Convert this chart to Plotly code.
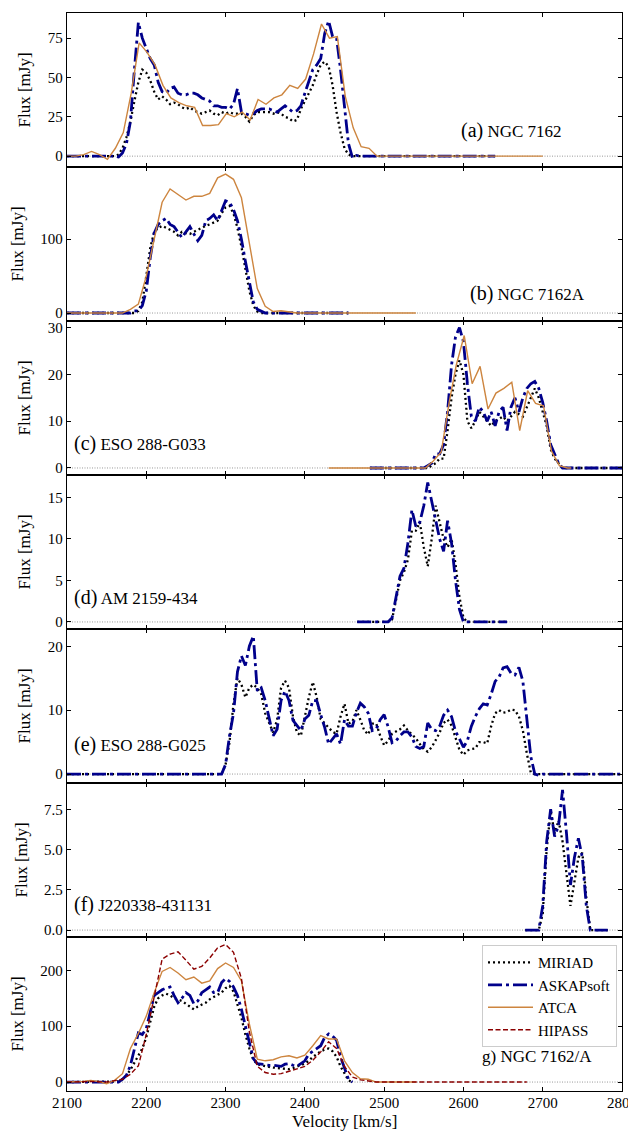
import plotly.graph_objects as go
from plotly.subplots import make_subplots

# ---------------- data ----------------
a_vel = [
    2100, 2130, 2160, 2165, 2170, 2175, 2180, 2185, 2190, 2195,
    2200, 2205, 2210, 2215, 2220, 2225, 2230, 2235, 2240, 2245,
    2250, 2255, 2260, 2265, 2270, 2275, 2280, 2285, 2290, 2295,
    2300, 2305, 2310, 2315, 2320, 2325, 2330, 2335, 2340, 2345,
    2350, 2355, 2360, 2365, 2370, 2375, 2380, 2385, 2390, 2395,
    2400, 2405, 2410, 2415, 2420, 2425, 2430, 2435, 2440, 2445,
    2450, 2455, 2460, 2465, 2470, 2500, 2550, 2600, 2640]
a_miriad = [
    0, 0, 0, 1, 5, 12, 22, 35, 47, 55,
    53, 48, 41, 36, 38, 36, 33, 34, 33, 31,
    30, 31, 29, 28, 27, 28, 29, 27, 26, 28,
    27, 28, 27, 27, 27, 25, 22, 26, 28, 28,
    28, 28, 27, 28, 27, 25, 24, 22, 23, 30,
    35, 40, 45, 52, 58, 60, 57, 45, 28, 15,
    5, 1, 0, 0, 0, 0, 0, 0, 0]
a_askap = [
    0, 0, 0, -0.5, 2, 8, 22, 55, 85, 75,
    68, 62, 58, 47, 41, 40, 43, 44, 40, 39,
    39, 40, 40, 39, 37, 36, 35, 32, 32, 31,
    31, 30, 33, 43, 28, 27, 26, 27, 29, 30,
    30, 30, 29, 28, 30, 32, 30, 28, 29, 32,
    40, 48, 55, 58, 62, 78, 86, 76, 75, 55,
    30, 8, -1, 0.5, 0, 0, 0, 0, 0]
a_atca_vel = [
    2100, 2111, 2121, 2131, 2141, 2151, 2161, 2171, 2181, 2191,
    2201, 2211, 2221, 2231, 2241, 2251, 2261, 2271, 2281, 2291,
    2301, 2311, 2321, 2331, 2341, 2351, 2361, 2371, 2381, 2391,
    2401, 2411, 2421, 2431, 2441, 2451, 2461, 2471, 2481, 2491,
    2501, 2700]
a_atca = [
    0, 0, 1, 3, 1, -2, 5, 15, 40, 72,
    66, 58, 45, 37, 34, 32, 31, 19.5, 19.5, 20,
    27, 25, 28, 23, 36, 33, 37, 39, 45, 43,
    49, 65, 84, 75, 76, 38, 18, 6, 5, 0,
    0, 0]

b_vel = [
    2100, 2140, 2180, 2185, 2190, 2195, 2200, 2205, 2210, 2215,
    2220, 2225, 2230, 2235, 2240, 2245, 2250, 2255, 2260, 2265,
    2270, 2275, 2280, 2285, 2290, 2295, 2300, 2305, 2310, 2315,
    2320, 2325, 2330, 2335, 2340, 2345, 2350, 2400, 2455]
b_miriad = [
    0, 0, 0, 0, 3, 15, 50, 88, 110, 115,
    118, 115, 112, 110, 105, 110, 108, 107, 110, 113,
    115, 118, 120, 123, 125, 135, 143, 145, 135, 115,
    90, 60, 30, 10, 2, 0, 0, 0, 0]
b_askap = [
    0, 0, 0, 3, 3, 10, 30, 75, 108, 120,
    125, 128, 120, 117, 110, 102, 110, 117, 107, 98,
    105, 125, 128, 133, 125, 140, 152, 150, 140, 125,
    100, 70, 40, 15, 5, 2, 0, 0, 0]
b_atca_vel = [
    2100, 2120, 2140, 2160, 2170, 2180, 2190, 2200, 2210, 2220,
    2230, 2240, 2250, 2260, 2270, 2280, 2290, 2300, 2310, 2320,
    2330, 2340, 2350, 2360, 2370, 2380, 2390, 2400, 2540]
b_atca = [
    0, 0, 0, 0, 0, 5, 12, 50, 100, 150,
    168, 160, 153, 158, 158, 162, 183, 188, 181, 156,
    97, 33, 9, 2, 3, 1, 0, 0, 0]

c_vel = [
    2482, 2550, 2555, 2560, 2565, 2570, 2575, 2580, 2585, 2590,
    2595, 2600, 2605, 2610, 2615, 2620, 2625, 2630, 2635, 2640,
    2645, 2650, 2655, 2660, 2665, 2670, 2675, 2680, 2685, 2690,
    2695, 2700, 2705, 2710, 2715, 2720, 2725, 2730, 2800]
c_askap = [
    0, 0, 0.5, 1, 3, 3, 5, 12, 22, 28,
    30, 27, 18, 11, 10, 13, 12, 10, 12, 9,
    12, 13, 8, 13, 15, 12, 15, 17, 18, 18.5,
    17, 14, 10, 5, 3, 1, 0, 0, 0]
c_miriad = [
    0, 0, 0, 0.5, 1, 2, 2, 8, 15, 20,
    23, 20, 10, 8.5, 10, 12, 11, 10, 9, 10,
    10.5, 11, 10, 11, 12, 11.5, 11, 13, 15, 17,
    15, 12, 9, 4, 2, 1, 0, 0, 0]
c_atca_vel = [2430, 2480, 2530, 2552, 2562, 2572, 2582, 2591, 2601, 2611,
              2621, 2631, 2641, 2651, 2661, 2671, 2681, 2691, 2701, 2711,
              2721, 2731, 2736]
c_atca = [0, 0, 0, 0, 1.5, 3.4, 14, 22, 28.3, 18,
          21.7, 12.6, 16, 17, 18.3, 8, 16.5, 13.8, 13.3, 3.6,
          0.5, 0, 0]

d_vel = [
    2466, 2500, 2505, 2510, 2515, 2520, 2525, 2530, 2535, 2540,
    2545, 2550, 2555, 2560, 2565, 2570, 2575, 2580, 2585, 2590,
    2595, 2600, 2605, 2655]
d_askap = [
    0, 0, 0, 0.5, 3, 5.5, 6.5, 9.5, 13.5, 11.5,
    12, 14, 16.8, 14.5, 12.5, 10, 8.5, 12.2, 9.5, 5,
    1.5, 0, 0, 0]
d_miriad = [
    0, 0, 0, 0.3, 2.5, 5, 6, 7.5, 11, 11,
    12, 9, 6.7, 10, 14, 12, 10, 9, 10, 7,
    3, 0.5, 0, 0]

e_vel = [
    2100, 2290, 2295, 2300, 2305, 2310, 2315, 2320, 2325, 2330,
    2335, 2340, 2345, 2350, 2355, 2360, 2365, 2370, 2375, 2380,
    2385, 2390, 2395, 2400, 2405, 2410, 2415, 2420, 2425, 2430,
    2435, 2440, 2445, 2450, 2455, 2460, 2465, 2470, 2475, 2480,
    2485, 2490, 2495, 2500, 2505, 2510, 2515, 2520, 2525, 2530,
    2535, 2540, 2545, 2550, 2555, 2560, 2565, 2570, 2575, 2580,
    2585, 2590, 2595, 2600, 2605, 2610, 2615, 2620, 2625, 2630,
    2635, 2640, 2645, 2650, 2655, 2660, 2665, 2670, 2675, 2680,
    2685, 2690, 2695, 2700, 2800]
e_askap = [
    0, 0, 0, 1.5, 6, 9.5, 16, 18.5, 17, 20,
    21.6, 13, 13.5, 11.5, 8.5, 6, 7, 11.5, 13, 11.5,
    8.4, 7.5, 6.8, 8.6, 9.2, 11.5, 11.5, 9.3, 7.3, 4.7,
    5.5, 6.3, 4.7, 8.5, 7.5, 7.5, 9.6, 11.1, 10.5, 9.5,
    6.8, 7, 8.5, 9.3, 7.4, 4.9, 5.2, 6, 6.6, 6.6,
    5.8, 4.3, 4, 4.3, 8, 7, 6.8, 7.5, 9.2, 10,
    9, 6.7, 5.5, 4.2, 5.2, 7.5, 9, 10.2, 11, 10.8,
    12.5, 14.5, 15.2, 16.6, 16.8, 15.8, 15.5, 16.7, 14.5, 8.4,
    2.7, 0, -0.2, 0, 0]
e_miriad = [
    0, 0, 0, 1.5, 5, 11, 15, 14, 12, 13.5,
    14, 13.5, 12.5, 9.5, 8, 6.5, 8.5, 13.5, 14.6, 13.5,
    9, 6.5, 6, 9, 12, 14.4, 12, 8.6, 7.9, 7.2,
    6.6, 6.3, 9, 11, 7.9, 8.2, 10, 8.5, 6.8, 6.2,
    7.9, 7.9, 6, 4.5, 5.2, 6.3, 6.6, 7, 7.6, 6.8,
    6.2, 5.6, 4.7, 3.9, 3.5, 4.2, 5.3, 6.5, 8, 8.5,
    7.6, 5.5, 3.8, 3, 3.7, 3.9, 4, 5, 5, 4.8,
    7.5, 9.5, 10, 9.6, 9.7, 10.1, 10, 9, 6.8, 3.2,
    0.2, 0, 0, 0, 0]

f_vel = [2678, 2695, 2700, 2705, 2710, 2715, 2720, 2725, 2730, 2735,
         2740, 2745, 2750, 2755, 2760, 2765, 2782]
f_askap = [0, 0, 1.5, 5.5, 7.5, 5.8, 6.5, 8.7, 6, 2.8,
           4.5, 5.7, 4.5, 1.5, 0, 0, 0]
f_miriad = [0, 0, 1, 5, 7.4, 6, 6.8, 5.5, 3.5, 1.5,
            3, 4.5, 4.8, 2, 0, 0, 0]

g_vel = [
    2100, 2150, 2160, 2165, 2170, 2175, 2180, 2185, 2190, 2195,
    2200, 2205, 2210, 2215, 2220, 2225, 2230, 2235, 2240, 2245,
    2250, 2255, 2260, 2265, 2270, 2275, 2280, 2285, 2290, 2295,
    2300, 2305, 2310, 2315, 2320, 2325, 2330, 2335, 2340, 2345,
    2350, 2355, 2360, 2365, 2370, 2375, 2380, 2385, 2390, 2395,
    2400, 2405, 2410, 2415, 2420, 2425, 2430, 2435, 2440, 2445,
    2450, 2455, 2460]
g_askap = [
    0, 0, 0, 0, 5, 12, 30, 60, 88, 85,
    96, 125, 155, 160, 165, 168, 170, 155, 142, 150,
    160, 155, 140, 145, 160, 165, 170, 160, 160, 178,
    185, 180, 170, 155, 130, 100, 70, 42, 33, 32,
    30, 30, 30, 29, 28, 32, 33, 30, 28, 33,
    38, 50, 55, 60, 65, 80, 86, 82, 75, 45,
    25, 5, 0]
g_miriad = [
    0, 0, 0, 1, 5, 12, 22, 35, 48, 60,
    80, 110, 135, 150, 155, 158, 155, 150, 148, 145,
    140, 135, 130, 135, 138, 142, 148, 152, 155, 160,
    168, 172, 162, 140, 115, 85, 60, 40, 32, 30,
    28, 27, 26, 25, 25, 24, 23, 25, 28, 30,
    33, 38, 45, 50, 55, 58, 60, 55, 45, 28,
    15, 3, 0]
g_atca_vel = [
    2100, 2110, 2120, 2130, 2140, 2150, 2160, 2170, 2180, 2190,
    2200, 2210, 2220, 2230, 2240, 2250, 2260, 2270, 2280, 2290,
    2300, 2310, 2320, 2330, 2340, 2350, 2360, 2370, 2380, 2390,
    2400, 2410, 2420, 2430, 2440, 2450, 2460, 2470, 2480, 2490,
    2500, 2540]
g_atca = [
    0, 0, 1, 3, 1, -3, 3, 15, 60, 87,
    118, 160, 198, 205, 195, 183, 188, 177, 181, 203,
    213, 205, 181, 104, 41, 38, 40, 45, 47, 43,
    48, 65, 83, 77, 77, 38, 17, 6, 5, 0,
    0, 0]
g_hipass_vel = [
    2100, 2130, 2150, 2160, 2170, 2180, 2190, 2200, 2210, 2220,
    2230, 2240, 2250, 2260, 2270, 2280, 2290, 2300, 2310, 2320,
    2330, 2340, 2350, 2360, 2370, 2380, 2390, 2400, 2410, 2420,
    2430, 2440, 2450, 2460, 2470, 2480, 2490, 2500, 2680]
g_hipass = [
    0, 1, 0, 2, 5, 14, 29, 85, 150, 220,
    229, 233, 218, 202, 207, 222, 240, 246, 232, 185,
    90, 28, 17, 14, 15, 19, 23, 28, 39, 54,
    72, 60, 28, 9, 4, 1.5, 0, 0, 0]

panel_labels = ["(a)", "(b)", "(c)", "(d)", "(e)", "(f)", "g)"]
panel_names = ["NGC 7162", "NGC 7162A", "ESO 288-G033", "AM 2159-434",
               "ESO 288-G025", "J220338-431131", "NGC 7162/A"]
y_ranges = [[-6.9, 91], [-10.8, 197.7], [-1.5, 31.4], [-0.85, 17.7],
            [-1.4, 22.7], [-0.43, 9.13], [-16, 259.5]]
y_ticks = [[0, 25, 50, 75], [0, 100], [0, 10, 20, 30], [0, 5, 10, 15],
           [0, 10, 20], [0, 2.5, 5.0, 7.5], [0, 100, 200]]
label_pos = [(2594, 16), (2606, 27), (2106, 5.2), (2106, 2.9),
             (2106, 4.6), (2106, 1.57), (2621, 45)]
x_ticks = [2100, 2200, 2300, 2400, 2500, 2600, 2700, 2800]

# ---------------- styles ----------------
FONT = "Liberation Serif"
STY = {
    "MIRIAD": dict(color="black", width=2.3, dash="2px,3px"),
    "ASKAPsoft": dict(color="#00008B", width=2.8, dash="14px,4px,3px,4px"),
    "ATCA": dict(color="#CD853F", width=1.4),
    "HIPASS": dict(color="#8B0000", width=1.4, dash="5px,2.5px"),
}

fig = make_subplots(rows=7, cols=1, shared_xaxes=True, vertical_spacing=0)

panels = [
    [("MIRIAD", a_vel, a_miriad), ("ASKAPsoft", a_vel, a_askap), ("ATCA", a_atca_vel, a_atca)],
    [("MIRIAD", b_vel, b_miriad), ("ASKAPsoft", b_vel, b_askap), ("ATCA", b_atca_vel, b_atca)],
    [("MIRIAD", c_vel, c_miriad), ("ASKAPsoft", c_vel, c_askap), ("ATCA", c_atca_vel, c_atca)],
    [("MIRIAD", d_vel, d_miriad), ("ASKAPsoft", d_vel, d_askap)],
    [("MIRIAD", e_vel, e_miriad), ("ASKAPsoft", e_vel, e_askap)],
    [("MIRIAD", f_vel, f_miriad), ("ASKAPsoft", f_vel, f_askap)],
    [("MIRIAD", g_vel, g_miriad), ("ASKAPsoft", g_vel, g_askap),
     ("ATCA", g_atca_vel, g_atca), ("HIPASS", g_hipass_vel, g_hipass)],
]

for i, series in enumerate(panels):
    row = i + 1
    for name, xv, yv in series:
        fig.add_trace(go.Scatter(x=xv, y=yv, mode="lines", name=name,
                                 line=STY[name], showlegend=(row == 7),
                                 hoverinfo="skip"), row=row, col=1)
    yref = "y" if row == 1 else f"y{row}"
    xref = "x" if row == 1 else f"x{row}"
    fig.add_shape(type="line", xref=f"{xref} domain", yref=yref,
                  x0=0, x1=1, y0=0, y1=0, layer="below",
                  line=dict(color="#999999", width=1, dash="1px,1.5px"))
    lx, ly = label_pos[i]
    if row == 7:
        txt = f"{panel_labels[i]} {panel_names[i]}"
    else:
        txt = f"<span style='font-size:20px'>{panel_labels[i]}</span> {panel_names[i]}"
    fig.add_annotation(x=lx, y=ly, xref=xref, yref=yref, text=txt,
                       showarrow=False, xanchor="left", yanchor="middle",
                       font=dict(family=FONT, size=17, color="black"))
    fig.update_yaxes(row=row, col=1, range=y_ranges[i], tickvals=y_ticks[i],
                     ticktext=[(f"{t:.1f}" if row == 6 else f"{t:g}") for t in y_ticks[i]],
                     title=dict(text="Flux [mJy]", font=dict(family=FONT, size=17),
                                standoff=12),
                     ticks="inside", ticklen=4, tickcolor="black",
                     showline=True, linecolor="black", linewidth=1.3,
                     mirror="allticks", showgrid=False, zeroline=False,
                     tickfont=dict(family=FONT, size=15, color="black"))
    fig.update_xaxes(row=row, col=1, range=[2100, 2800], tickvals=x_ticks,
                     ticks="inside", ticklen=4, tickcolor="black",
                     showline=True, linecolor="black", linewidth=1.3,
                     mirror="allticks", showgrid=False, zeroline=False,
                     automargin=False,
                     ticklabelstandoff=-2, ticklabeloverflow="allow",
                     tickfont=dict(family=FONT, size=15, color="black"))

# x-axis title placed just under the tick labels of the bottom panel
fig.add_annotation(x=0.5, y=-0.028, xref="paper", yref="paper",
                   text="Velocity [km/s]", showarrow=False,
                   xanchor="center", yanchor="middle",
                   font=dict(family=FONT, size=17, color="black"))

fig.update_layout(
    width=628, height=1133,
    margin=dict(l=67, r=6, t=13, b=42),
    plot_bgcolor="white", paper_bgcolor="white",
    font=dict(family=FONT, color="black"),
    legend=dict(x=0.991, y=0.1354, xanchor="right", yanchor="top",
                bgcolor="white", bordercolor="#cccccc", borderwidth=1,
                font=dict(family=FONT, size=15, color="black"),
                tracegroupgap=0, itemwidth=45),
)

# remove the browser's default 8px page margin so the figure sits at (0, 0)
fig.write_html("out.html",
               config={"displayModeBar": False},
               post_script="document.body.style.margin='0';"
                           "document.body.style.overflow='hidden';")
